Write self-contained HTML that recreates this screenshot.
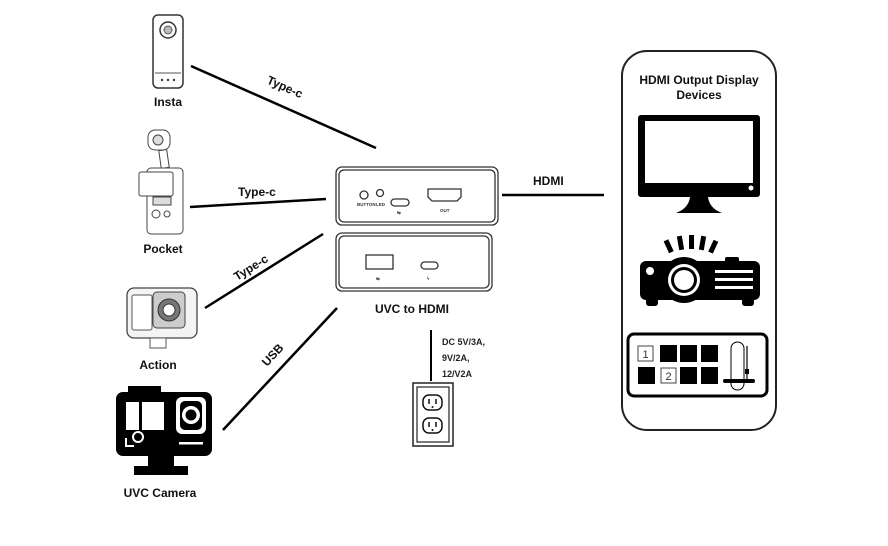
<!DOCTYPE html>
<html><head><meta charset="utf-8"><style>
html,body{margin:0;padding:0;background:#fff;}
svg{display:block;font-family:"Liberation Sans",sans-serif;}
.l{font-weight:bold;font-size:12px;fill:#111;}
</style></head><body>
<svg width="888" height="546" viewBox="0 0 888 546" xmlns="http://www.w3.org/2000/svg">
<!-- Insta -->
<rect x="153" y="15" width="30" height="73" rx="5" fill="#fff" stroke="#333" stroke-width="1.5"/>
<circle cx="168" cy="30" r="8" fill="#fff" stroke="#333" stroke-width="1.5"/>
<circle cx="168" cy="30" r="4" fill="#bbb" stroke="#555"/>
<line x1="155" y1="73" x2="181" y2="73" stroke="#555"/>
<circle cx="162" cy="80" r="1.2" fill="#333"/><circle cx="168" cy="80" r="1.2" fill="#333"/><circle cx="174" cy="80" r="1.2" fill="#333"/>
<text x="168" y="106" class="l" text-anchor="middle">Insta</text>
<!-- Pocket -->
<rect x="148" y="130" width="22" height="20" rx="7" fill="#fff" stroke="#444"/>
<circle cx="158" cy="140" r="5" fill="#ddd" stroke="#444"/>
<rect x="160" y="150" width="8" height="18" fill="#fff" stroke="#444" transform="rotate(-8 164 159)"/>
<rect x="147" y="168" width="36" height="66" rx="4" fill="#fff" stroke="#444"/>
<rect x="139" y="172" width="34" height="24" rx="2" fill="#fff" stroke="#444"/>
<rect x="153" y="197" width="18" height="8" fill="#ddd" stroke="#444"/>
<circle cx="156" cy="214" r="4" fill="#fff" stroke="#444"/><circle cx="167" cy="214" r="3" fill="#fff" stroke="#444"/>
<text x="163" y="253" class="l" text-anchor="middle">Pocket</text>
<!-- Action -->
<rect x="127" y="288" width="70" height="50" rx="7" fill="#f4f4f4" stroke="#444" stroke-width="1.3"/>
<rect x="132" y="295" width="20" height="35" rx="2" fill="#fff" stroke="#555"/>
<rect x="153" y="292" width="32" height="36" rx="4" fill="#ccc" stroke="#444"/>
<circle cx="169" cy="310" r="11" fill="#777" stroke="#333"/>
<circle cx="169" cy="310" r="6" fill="#fff" stroke="#333"/>
<rect x="150" y="338" width="16" height="10" fill="#fff" stroke="#555"/>
<text x="158" y="369" class="l" text-anchor="middle">Action</text>
<!-- UVC camera -->
<rect x="128" y="386" width="33" height="8" fill="#000"/>
<rect x="116" y="392" width="96" height="64" rx="7" fill="#000"/>
<rect x="126" y="402" width="13" height="28" fill="#fff"/>
<rect x="142" y="402" width="22" height="28" fill="#fff"/>
<rect x="176" y="397" width="30" height="37" rx="6" fill="#fff"/>
<rect x="180" y="401" width="22" height="29" rx="5" fill="#000"/>
<circle cx="191" cy="415" r="9" fill="#fff"/><circle cx="191" cy="415" r="5.5" fill="#000"/>
<circle cx="138" cy="437" r="5" fill="none" stroke="#fff" stroke-width="2"/>
<path d="M126 438v8h8" fill="none" stroke="#fff" stroke-width="2"/>
<rect x="179" y="442" width="24" height="2.5" fill="#fff"/>
<rect x="148" y="456" width="26" height="10" fill="#000"/>
<rect x="134" y="466" width="54" height="9" fill="#000"/>
<text x="160" y="497" class="l" text-anchor="middle">UVC Camera</text>
<!-- connectors -->
<g stroke="#000" stroke-width="2.5">
<line x1="191" y1="66" x2="376" y2="148"/>
<line x1="190" y1="207" x2="326" y2="199"/>
<line x1="205" y1="308" x2="323" y2="234"/>
<line x1="223" y1="430" x2="337" y2="308"/>
<line x1="502" y1="195" x2="604" y2="195"/>
<line x1="431" y1="330" x2="431" y2="381" stroke-width="2"/>
</g>
<text class="l" transform="translate(266,83) rotate(24)">Type-c</text>
<text class="l" x="238" y="196">Type-c</text>
<text class="l" transform="translate(237,281) rotate(-32)">Type-c</text>
<text class="l" transform="translate(267,367) rotate(-47)">USB</text>
<text class="l" x="533" y="185">HDMI</text>
<!-- device boxes -->
<g fill="#fff" stroke="#333" stroke-width="1.3">
<rect x="336" y="167" width="162" height="58" rx="6"/>
<rect x="339" y="170" width="156" height="52" rx="5"/>
<rect x="336" y="233" width="156" height="58" rx="6"/>
<rect x="339" y="236" width="150" height="52" rx="5"/>
<circle cx="364" cy="195" r="4"/><circle cx="380" cy="193" r="3.5"/>
<rect x="391" y="199" width="18" height="7" rx="3.5"/>
<path d="M428 189h33v8l-4 4h-25l-4-4z"/>
<rect x="366" y="255" width="27" height="14"/>
<rect x="421" y="262" width="17" height="7" rx="3.5"/>
</g>
<g font-size="4.5" font-weight="bold" fill="#333">
<text x="357" y="206">BUTTON</text><text x="376" y="206">LED</text><text x="440" y="212">OUT</text>
<text x="397" y="214">⇆</text><text x="376" y="280">⇆</text><text x="427" y="280">ϟ</text>
</g>
<text x="412" y="313" class="l" text-anchor="middle">UVC to HDMI</text>
<!-- power -->
<g font-size="9" font-weight="bold" fill="#222">
<text x="442" y="345">DC 5V/3A,</text><text x="442" y="361">9V/2A,</text><text x="442" y="377">12/V2A</text>
</g>
<rect x="413" y="383" width="40" height="63" fill="#fff" stroke="#222" stroke-width="1.5"/>
<rect x="417" y="387" width="32" height="55" fill="#fff" stroke="#222" stroke-width="1.2"/>
<rect x="423" y="395" width="19" height="15" rx="6" fill="#fff" stroke="#111" stroke-width="1.5"/>
<rect x="423" y="418" width="19" height="15" rx="6" fill="#fff" stroke="#111" stroke-width="1.5"/>
<g stroke="#111" stroke-width="1.5"><line x1="429" y1="399" x2="429" y2="404"/><line x1="436" y1="399" x2="436" y2="404"/><line x1="429" y1="422" x2="429" y2="427"/><line x1="436" y1="422" x2="436" y2="427"/></g>
<circle cx="432.5" cy="407" r="1" fill="#111"/><circle cx="432.5" cy="430" r="1" fill="#111"/>
<!-- right panel -->
<rect x="622" y="51" width="154" height="379" rx="25" fill="#fff" stroke="#222" stroke-width="2"/>
<text x="699" y="84" class="l" text-anchor="middle" font-size="11">HDMI Output Display</text>
<text x="699" y="99" class="l" text-anchor="middle" font-size="11">Devices</text>
<!-- monitor -->
<rect x="638" y="115" width="122" height="82" rx="3" fill="#000"/>
<rect x="645" y="121" width="108" height="62" fill="#fff"/>
<circle cx="751" cy="188" r="2.5" fill="#fff"/>
<path d="M690 197h18c1 8 6 13 14 16h-46c8-3 13-8 14-16z" fill="#000"/>
<!-- projector -->
<g fill="#000">
<rect x="666" y="240" width="5" height="13" transform="rotate(-25 668 246)"/>
<rect x="678" y="236" width="5" height="14" transform="rotate(-10 680 243)"/>
<rect x="689" y="235" width="5" height="14"/>
<rect x="700" y="236" width="5" height="14" transform="rotate(10 702 243)"/>
<rect x="711" y="240" width="5" height="13" transform="rotate(25 713 246)"/>
<rect x="725" y="257" width="14" height="6" rx="2"/>
<rect x="640" y="261" width="120" height="39" rx="6"/>
<rect x="646" y="298" width="12" height="8" rx="3"/><rect x="742" y="298" width="12" height="8" rx="3"/>
<circle cx="684" cy="280" r="23"/>
</g>
<circle cx="684" cy="280" r="16" fill="#fff"/><circle cx="684" cy="280" r="13" fill="#000"/><circle cx="684" cy="280" r="10" fill="#fff"/>
<circle cx="650" cy="271" r="4" fill="#fff"/>
<g fill="#fff"><rect x="715" y="270" width="38" height="3"/><rect x="715" y="278" width="38" height="3"/><rect x="715" y="286" width="38" height="3"/></g>
<!-- switcher -->
<rect x="628" y="334" width="139" height="62" rx="6" fill="#fff" stroke="#000" stroke-width="3"/>
<rect x="638" y="346" width="15" height="15" fill="#fff" stroke="#444"/>
<text x="645.5" y="358" font-size="11" text-anchor="middle" fill="#333">1</text>
<rect x="660" y="345" width="17" height="17" fill="#000"/><rect x="680" y="345" width="17" height="17" fill="#000"/><rect x="701" y="345" width="17" height="17" fill="#000"/>
<rect x="638" y="367" width="17" height="17" fill="#000"/>
<rect x="661" y="368" width="15" height="15" fill="#fff" stroke="#444"/>
<text x="668.5" y="380" font-size="11" text-anchor="middle" fill="#333">2</text>
<rect x="680" y="367" width="17" height="17" fill="#000"/><rect x="701" y="367" width="17" height="17" fill="#000"/>
<rect x="731" y="342" width="13" height="48" rx="6.5" fill="#fff" stroke="#000"/>
<line x1="747" y1="346" x2="747" y2="379" stroke="#000" stroke-width="1.2"/>
<rect x="745" y="369" width="4" height="5" fill="#000"/>
<rect x="723" y="379" width="32" height="4" rx="2" fill="#000"/>
</svg>
</body></html>
